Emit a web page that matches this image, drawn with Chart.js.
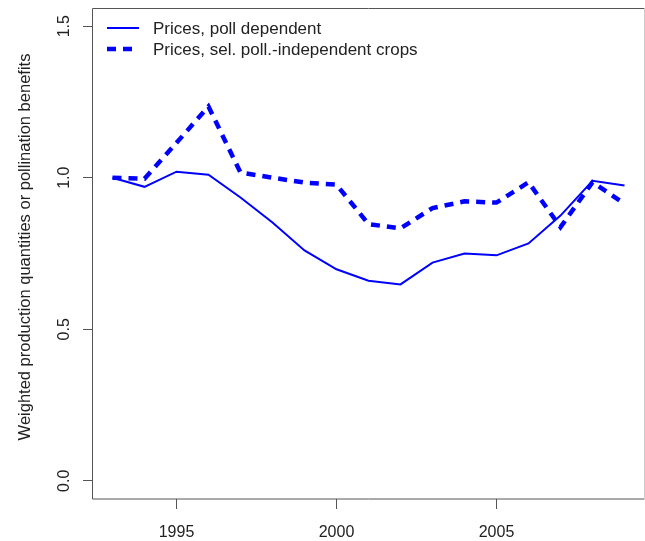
<!DOCTYPE html>
<html>
<head>
<meta charset="utf-8">
<script src="https://cdn.jsdelivr.net/npm/chart.js@4.4.1/dist/chart.umd.min.js"></script>
<style>
  html, body { margin: 0; padding: 0; background: #fff; }
  #wrap { width: 645px; height: 541px; }
</style>
</head>
<body>
<div id="wrap"><canvas id="c" width="645" height="541"></canvas></div>
<script>
// dados
const years = [1993, 1994, 1995, 1996, 1997, 1998, 1999, 2000, 2001, 2002, 2003, 2004, 2005, 2006, 2007, 2008, 2009];
const pollDependent = [1.00, 0.970, 1.020, 1.010, 0.935, 0.852, 0.760, 0.698, 0.660, 0.648, 0.720, 0.750, 0.744, 0.783, 0.875, 0.990, 0.974];
const pollIndependent = [1.00, 0.997, 1.115, 1.235, 1.017, 1.000, 0.984, 0.977, 0.847, 0.833, 0.900, 0.922, 0.918, 0.985, 0.837, 0.985, 0.914];
const xTicks = [1995, 2000, 2005];
const yTicks = [0.0, 0.5, 1.0, 1.5];
const yTickLabels = ["0.0", "0.5", "1.0", "1.5"];
const seriesNames = ["Prices, poll dependent", "Prices, sel. poll.-independent crops"];
const yTitle = "Weighted production quantities or pollination benefits";

const FONT = '"Liberation Sans", Arial, sans-serif';
const AXIS = "#555";
const TEXT = "#222";

// caixa, rótulos do eixo y e legenda desenhados à mão (estilo R)
const rPlot = {
  id: "rPlot",
  afterDraw(chart) {
    const ctx = chart.ctx;
    const a = chart.chartArea;
    const ys = chart.scales.y;
    ctx.save();
    ctx.strokeStyle = AXIS;
    ctx.lineWidth = 1;
    ctx.beginPath();
    ctx.moveTo(a.right - 0.5, a.bottom);
    ctx.lineTo(a.left + 0.5, a.bottom);
    ctx.lineTo(a.left + 0.5, a.top + 0.5);
    ctx.lineTo(a.right - 0.5, a.top + 0.5);
    ctx.stroke();
    // borda direita quase invisível, como no original
    ctx.strokeStyle = "#ccc";
    ctx.beginPath();
    ctx.moveTo(a.right - 0.5, a.top + 0.5);
    ctx.lineTo(a.right - 0.5, a.bottom);
    ctx.stroke();

    // rótulos do eixo y, girados
    ctx.fillStyle = TEXT;
    ctx.font = "16px " + FONT;
    ctx.textAlign = "center";
    ctx.textBaseline = "middle";
    yTicks.forEach((v, i) => {
      const py = ys.getPixelForValue(v);
      ctx.save();
      ctx.translate(65, py);
      ctx.rotate(-Math.PI / 2);
      ctx.fillText(yTickLabels[i], 0, 0);
      ctx.restore();
    });

    // título do eixo y
    ctx.font = "16.5px " + FONT;
    ctx.save();
    ctx.translate(25, 247);
    ctx.rotate(-Math.PI / 2);
    ctx.fillText(yTitle, 0, 0);
    ctx.restore();

    // legenda
    ctx.font = "17px " + FONT;
    chart.data.datasets.forEach((ds, i) => {
      const ly = 28 + i * 21;
      ctx.strokeStyle = ds.borderColor;
      ctx.lineWidth = ds.borderWidth;
      ctx.setLineDash(ds.borderDash || []);
      ctx.beginPath();
      ctx.moveTo(107, ly);
      ctx.lineTo(139, ly);
      ctx.stroke();
      ctx.setLineDash([]);
      ctx.fillStyle = TEXT;
      ctx.textAlign = "left";
      ctx.fillText(ds.label, 153, ly + 1);
    });
    ctx.restore();
  },
};

const ctx = document.getElementById("c").getContext("2d");
new Chart(ctx, {
  type: "line",
  data: {
    datasets: [
      {
        label: seriesNames[0],
        data: years.map((y, i) => ({ x: y, y: pollDependent[i] })),
        borderColor: "#0000FF",
        borderWidth: 2,
        pointRadius: 0,
        tension: 0,
      },
      {
        label: seriesNames[1],
        data: years.map((y, i) => ({ x: y, y: pollIndependent[i] })),
        borderColor: "#0000FF",
        borderWidth: 4.5,
        borderDash: [9, 7],
        borderCapStyle: "butt",
        pointRadius: 0,
        tension: 0,
      },
    ],
  },
  options: {
    responsive: false,
    animation: false,
    layout: { padding: { top: 8, right: 0, left: 0, bottom: 0 } },
    plugins: { legend: { display: false }, tooltip: { enabled: false } },
    scales: {
      x: {
        type: "linear",
        min: 1992.36,
        max: 2009.64,
        afterBuildTicks: (s) => { s.ticks = xTicks.map((v) => ({ value: v })); },
        afterFit: (s) => { s.height = 42; },
        border: { display: false },
        grid: { drawOnChartArea: false, drawTicks: true, tickLength: 10, color: AXIS },
        ticks: {
          color: TEXT,
          font: { size: 16, family: FONT },
          padding: 14,
          maxRotation: 0,
          callback: (v) => String(v),
        },
      },
      y: {
        min: -0.06,
        max: 1.56,
        afterBuildTicks: (s) => { s.ticks = yTicks.map((v) => ({ value: v })); },
        afterFit: (s) => { s.width = 92; },
        border: { display: false },
        grid: { drawOnChartArea: false, drawTicks: true, tickLength: 9, color: AXIS },
        ticks: { display: false },
      },
    },
  },
  plugins: [rPlot],
});
</script>
</body>
</html>
